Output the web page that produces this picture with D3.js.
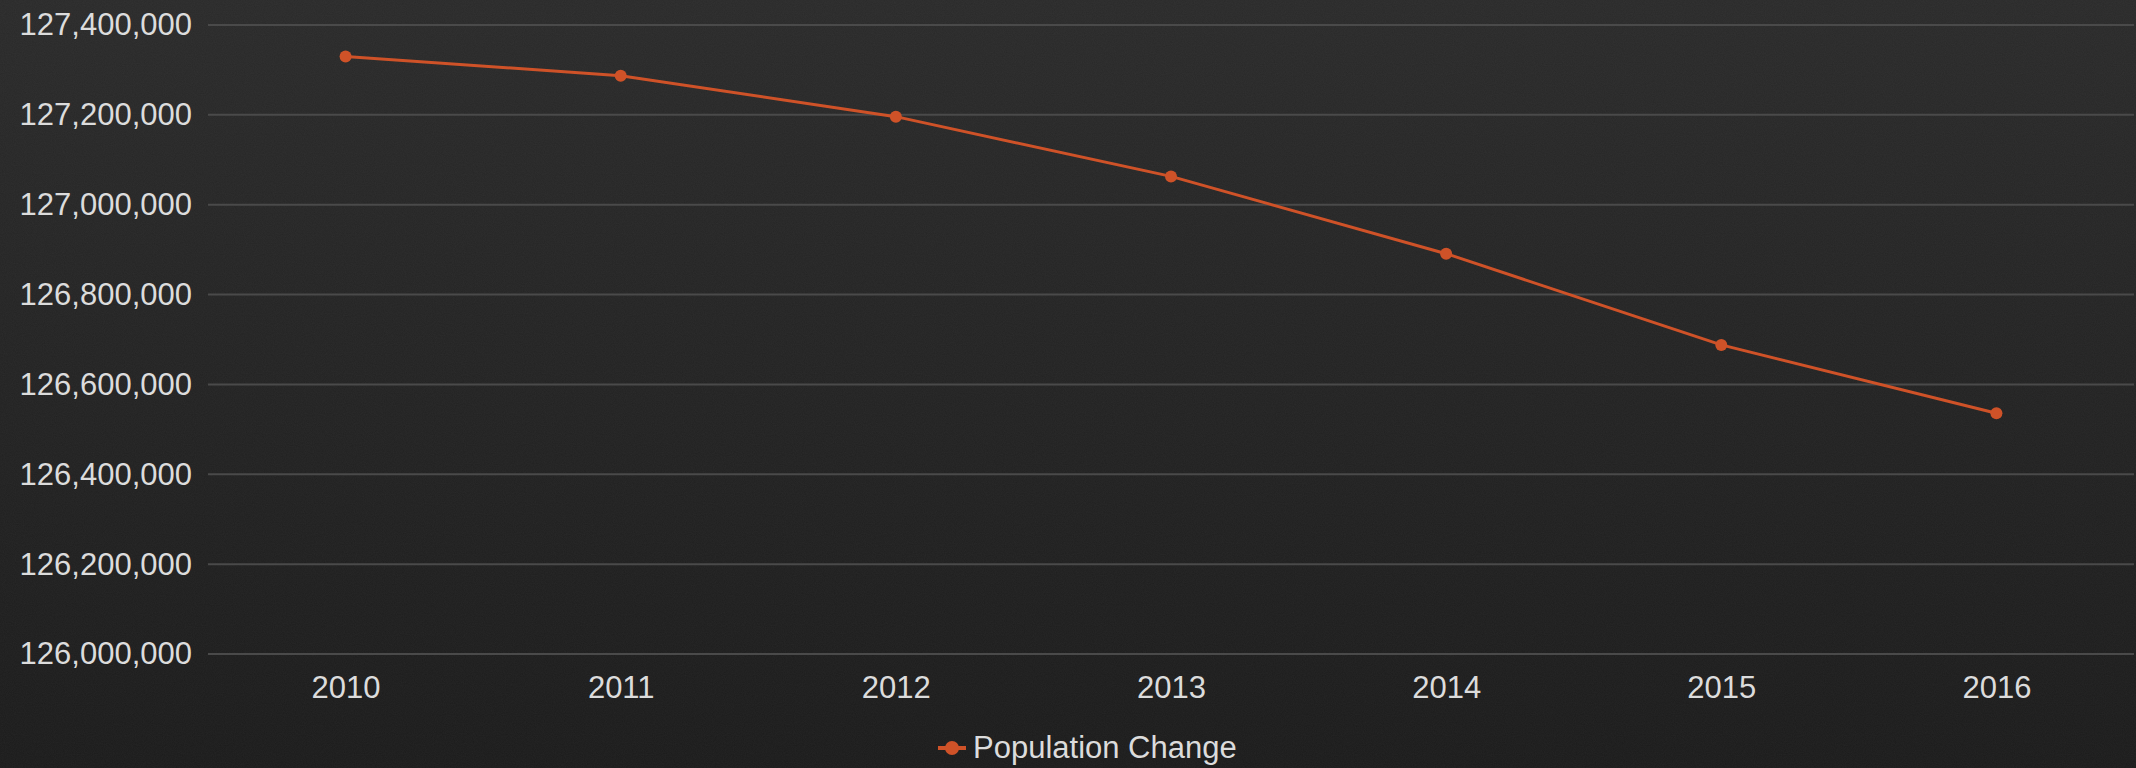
<!DOCTYPE html>
<html>
<head>
<meta charset="utf-8">
<script src="https://cdn.jsdelivr.net/npm/d3@7"></script>
<style>
  html, body { margin: 0; padding: 0; background: #222; }
  svg { display: block; }
  text { font-family: "Liberation Sans", Arial, sans-serif; }
</style>
</head>
<body>
<script>
// Population by year
const years = ["2010", "2011", "2012", "2013", "2014", "2015", "2016"];
const population = [127330000, 127287000, 127196000, 127063000, 126891000, 126688000, 126536000];
const yTicks = [126000000, 126200000, 126400000, 126600000, 126800000, 127000000, 127200000, 127400000];
const seriesName = "Population Change";

const W = 2136, H = 768;
const plot = { left: 208, right: 2134, top: 25, bottom: 654 };
const lineColor = "#cf5228";
const textColor = "#dcdcdc";
const gridColor = "#4a4a4a";

const svg = d3.select("body").append("svg")
  .attr("width", W).attr("height", H);

// dark chalkboard-style backdrop
const defs = svg.append("defs");
const bg = defs.append("linearGradient").attr("id", "bg")
  .attr("x1", 0).attr("y1", 0).attr("x2", 0).attr("y2", 1);
bg.append("stop").attr("offset", "0%").attr("stop-color", "#2a2a2a");
bg.append("stop").attr("offset", "100%").attr("stop-color", "#1b1b1b");

const grain = defs.append("filter").attr("id", "grain")
  .attr("x", 0).attr("y", 0).attr("width", "100%").attr("height", "100%");
grain.append("feTurbulence").attr("type", "fractalNoise")
  .attr("baseFrequency", 0.9).attr("numOctaves", 2).attr("seed", 3).attr("result", "noise");
grain.append("feColorMatrix").attr("type", "matrix")
  .attr("values", "0 0 0 0 0.5  0 0 0 0 0.5  0 0 0 0 0.5  0 0 0 0.06 0");

svg.append("rect").attr("width", W).attr("height", H).attr("fill", "url(#bg)");
svg.append("rect").attr("width", W).attr("height", H).attr("filter", "url(#grain)");

const x = d3.scalePoint().domain(years).range([plot.left, plot.right]).padding(0.5);
const y = d3.scaleLinear().domain([126000000, 127400000]).range([plot.bottom, plot.top]);

// horizontal gridlines
svg.append("g").selectAll("line").data(yTicks).join("line")
  .attr("x1", plot.left).attr("x2", plot.right)
  .attr("y1", d => y(d)).attr("y2", d => y(d))
  .attr("stroke", gridColor).attr("stroke-width", 2);

// y axis labels
const yAxis = svg.append("g")
  .attr("transform", `translate(${plot.left},0)`)
  .call(d3.axisLeft(y).tickValues(yTicks).tickSize(0).tickPadding(16)
    .tickFormat(d3.format(",")));
yAxis.select(".domain").remove();
yAxis.selectAll("text").attr("fill", textColor).style("font-size", "31px");

// x axis labels
const xAxis = svg.append("g")
  .attr("transform", `translate(0,${plot.bottom})`)
  .call(d3.axisBottom(x).tickSize(0));
xAxis.select(".domain").remove();
xAxis.selectAll("text").attr("fill", textColor).style("font-size", "31px")
  .attr("y", 44).attr("dy", 0);

// series line and markers
const pts = years.map((yr, i) => ({ year: yr, value: population[i] }));
svg.append("path").datum(pts)
  .attr("fill", "none").attr("stroke", lineColor).attr("stroke-width", 3)
  .attr("d", d3.line().x(d => x(d.year)).y(d => y(d.value)));
svg.append("g").selectAll("circle").data(pts).join("circle")
  .attr("cx", d => x(d.year)).attr("cy", d => y(d.value))
  .attr("r", 6).attr("fill", lineColor);

// legend
const lg = svg.append("g").attr("transform", "translate(952,748)");
lg.append("line").attr("x1", -14).attr("x2", 14).attr("y1", 0).attr("y2", 0)
  .attr("stroke", lineColor).attr("stroke-width", 4);
lg.append("circle").attr("r", 7).attr("fill", lineColor);
lg.append("text").attr("x", 21).attr("y", 0).attr("dy", "0.33em")
  .attr("fill", textColor).style("font-size", "31px").text(seriesName);
</script>
</body>
</html>
